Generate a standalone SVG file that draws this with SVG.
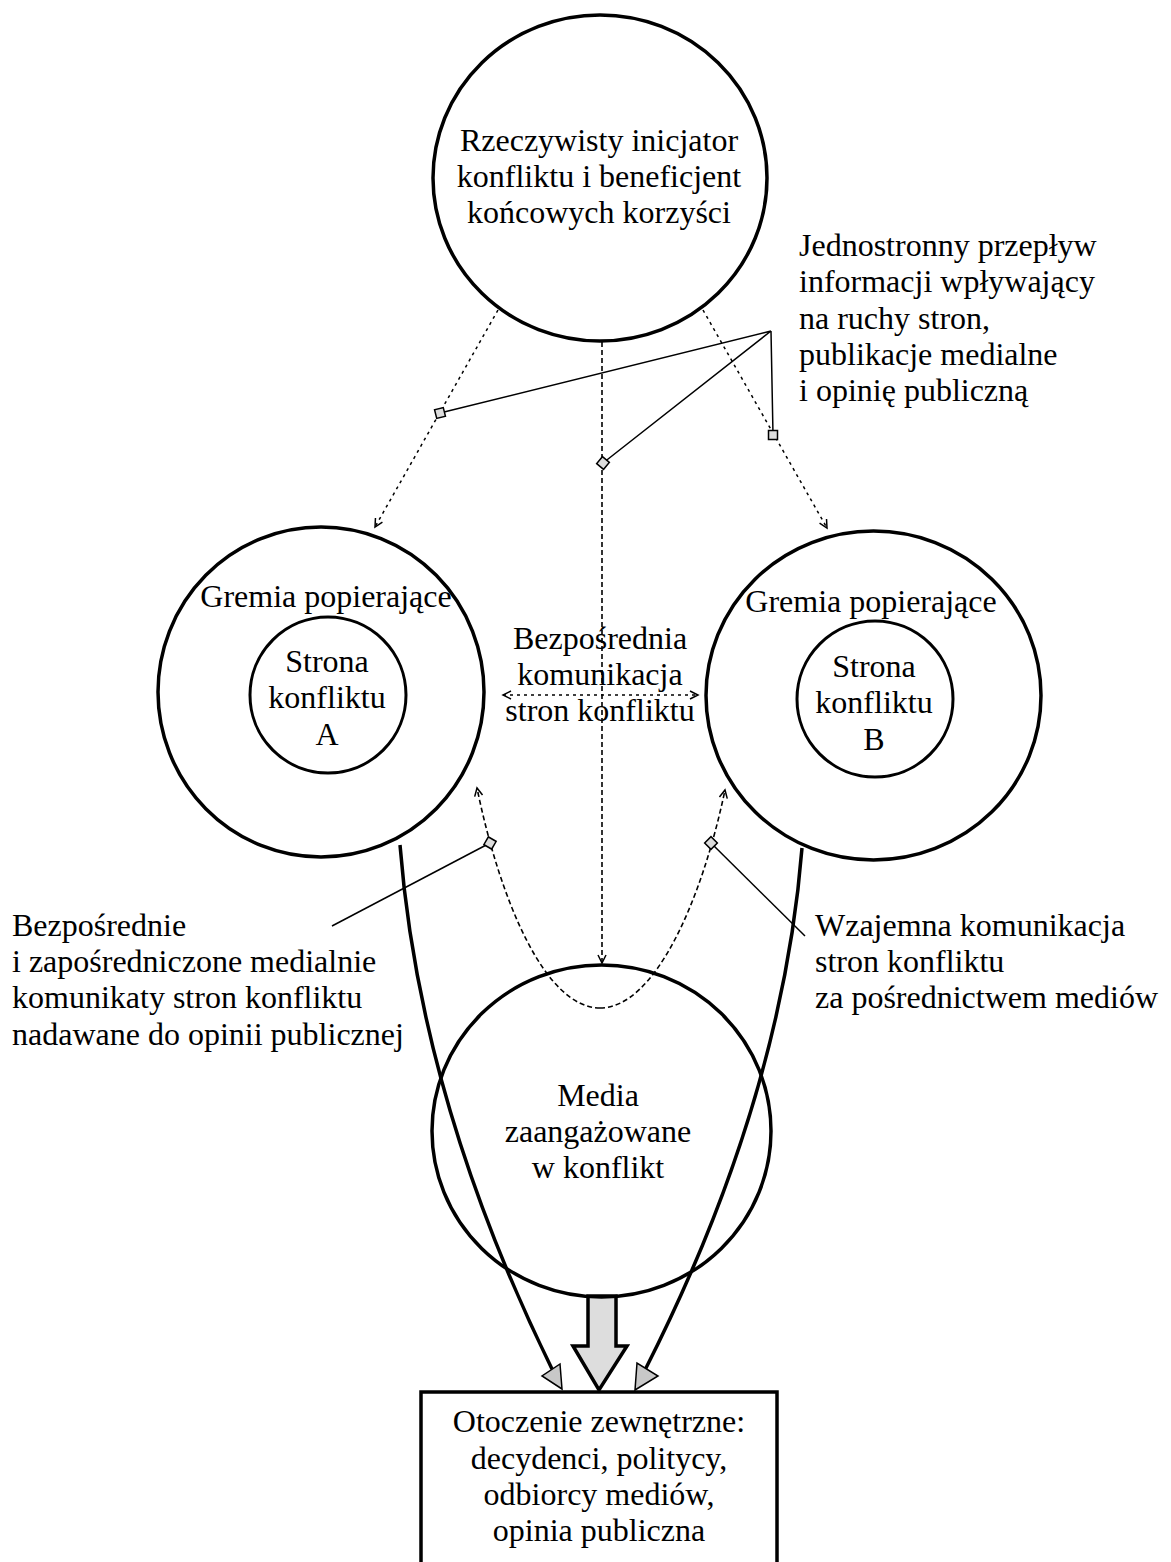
<svg xmlns="http://www.w3.org/2000/svg" width="1171" height="1562" viewBox="0 0 1171 1562">
<style>
.c{fill:none;stroke:#000;stroke-width:3.5}
.ci{fill:none;stroke:#000;stroke-width:3}
.t{font-family:"Liberation Serif","Times New Roman",serif;font-size:32px;fill:#000}
.m{text-anchor:middle}
.d{fill:none;stroke:#000;stroke-width:1.5;stroke-dasharray:3,4}
.dv{fill:none;stroke:#000;stroke-width:1.6;stroke-dasharray:5,3}
.s{fill:none;stroke:#000;stroke-width:1.5}
.th{fill:none;stroke:#000;stroke-width:3.5}
.sq{fill:#ddd;stroke:#000;stroke-width:1.5}
.gh{fill:#c8c8c8;stroke:#000;stroke-width:1.5;stroke-linejoin:miter}
</style>
<defs>
<marker id="ah" markerUnits="userSpaceOnUse" markerWidth="12" markerHeight="12" refX="9" refY="5" orient="auto-start-reverse" viewBox="0 0 12 10">
<path d="M1,1 L9,5 L1,9" fill="none" stroke="#000" stroke-width="1.5"/>
</marker>
</defs>
<rect width="1171" height="1562" fill="#fff"/>

<g id="connectors">
<path class="d" d="M498,310 L375,527" marker-end="url(#ah)"/>
<path class="d" d="M703,310 L827,528" marker-end="url(#ah)"/>
<path class="dv" d="M602,342 L602,963" marker-end="url(#ah)"/>
<path class="d" d="M503,695 L698,695" marker-start="url(#ah)" marker-end="url(#ah)"/>
<path class="dv" d="M600,1008 C545,1008 500,900 477,788" marker-end="url(#ah)"/>
<path class="dv" d="M600,1008 C655,1008 702,900 725,790" marker-end="url(#ah)"/>
<path class="s" d="M771,331 L440,413 M771,331 L603,463 M771,331 L773,435"/>
<path class="s" d="M490,843 L332,926"/>
<path class="s" d="M711,843 L805,936"/>
<rect class="sq" x="435.5" y="408.5" width="9" height="9" transform="rotate(-14 440 413)"/>
<rect class="sq" x="598.5" y="458.5" width="9" height="9" transform="rotate(40 603 463)"/>
<rect class="sq" x="768.5" y="430.5" width="9" height="9"/>
<rect class="sq" x="485.5" y="838.5" width="9" height="9" transform="rotate(30 490 843)"/>
<rect class="sq" x="706.5" y="838.5" width="9" height="9" transform="rotate(45 711 843)"/>
<path class="th" d="M400,845 Q420,1100 552,1369"/>
<path class="th" d="M802,848 Q782,1100 645,1370"/>
<polygon class="gh" points="562,1389 542,1376 560,1364"/>
<polygon class="gh" points="635,1390 637,1363 658,1376"/>
<polygon points="588,1296 616,1296 616,1346 627,1346 599,1390 573,1346 588,1346" fill="#ddd" stroke="#000" stroke-width="3.5" stroke-linejoin="miter"/>
</g>

<g id="initiator">
<ellipse class="c" cx="600" cy="178" rx="167" ry="163"/>
<text class="t m" x="599" y="151">Rzeczywisty inicjator</text>
<text class="t m" x="599" y="187">konfliktu i beneficjent</text>
<text class="t m" x="599" y="223">końcowych korzyści</text>
</g>

<g id="label-flow">
<text class="t" x="799" y="256">Jednostronny przepływ</text>
<text class="t" x="799" y="292">informacji wpływający</text>
<text class="t" x="799" y="329">na ruchy stron,</text>
<text class="t" x="799" y="365">publikacje medialne</text>
<text class="t" x="799" y="401">i opinię publiczną</text>
</g>

<g id="gremia-a">
<ellipse class="c" cx="321" cy="692" rx="163" ry="165"/>
<text class="t m" x="326" y="607">Gremia popierające</text>
</g>
<g id="strona-a">
<circle class="ci" cx="328" cy="695" r="78"/>
<text class="t m" x="327" y="672">Strona</text>
<text class="t m" x="327" y="708">konfliktu</text>
<text class="t m" x="327" y="745">A</text>
</g>

<g id="gremia-b">
<ellipse class="c" cx="873.5" cy="695.5" rx="167.5" ry="164.5"/>
<text class="t m" x="871" y="612">Gremia popierające</text>
</g>
<g id="strona-b">
<circle class="ci" cx="875" cy="699" r="78"/>
<text class="t m" x="874" y="677">Strona</text>
<text class="t m" x="874" y="713">konfliktu</text>
<text class="t m" x="874" y="750">B</text>
</g>

<g id="label-direct">
<text class="t m" x="600" y="649">Bezpośrednia</text>
<text class="t m" x="600" y="685">komunikacja</text>
<text class="t m" x="600" y="721">stron konfliktu</text>
</g>

<g id="label-left">
<text class="t" x="12" y="936">Bezpośrednie</text>
<text class="t" x="12" y="972">i zapośredniczone medialnie</text>
<text class="t" x="12" y="1008">komunikaty stron konfliktu</text>
<text class="t" x="12" y="1045">nadawane do opinii publicznej</text>
</g>

<g id="label-right">
<text class="t" x="815" y="936">Wzajemna komunikacja</text>
<text class="t" x="815" y="972">stron konfliktu</text>
<text class="t" x="815" y="1008">za pośrednictwem mediów</text>
</g>

<g id="media">
<ellipse class="c" cx="601.5" cy="1131" rx="169.5" ry="166"/>
<text class="t m" x="598" y="1106">Media</text>
<text class="t m" x="598" y="1142">zaangażowane</text>
<text class="t m" x="598" y="1178">w konflikt</text>
</g>

<g id="environment">
<rect x="421" y="1392" width="356" height="200" fill="none" stroke="#000" stroke-width="3.5"/>
<text class="t m" x="599" y="1432">Otoczenie zewnętrzne:</text>
<text class="t m" x="599" y="1469">decydenci, politycy,</text>
<text class="t m" x="599" y="1505">odbiorcy mediów,</text>
<text class="t m" x="599" y="1541">opinia publiczna</text>
</g>
</svg>
